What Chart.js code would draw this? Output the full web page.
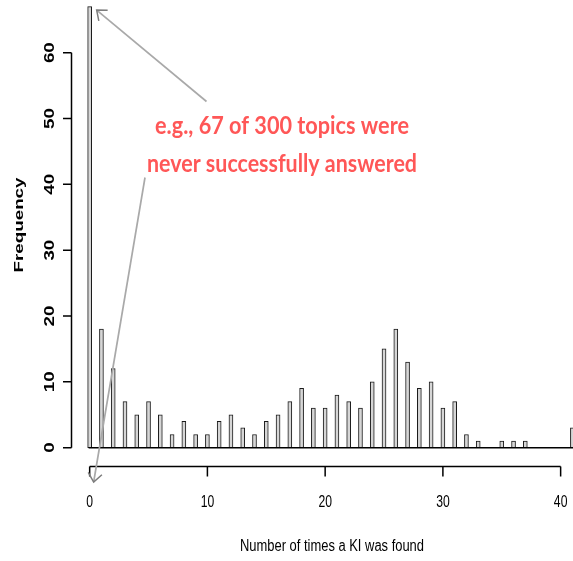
<!DOCTYPE html>
<html>
<head>
<meta charset="utf-8">
<script src="https://cdn.jsdelivr.net/npm/chart.js@4"></script>
<style>
  html, body { margin: 0; padding: 0; background: #fff; }
  #wrap { width: 573px; height: 561px; position: relative; }
</style>
</head>
<body>
<div id="wrap"><canvas id="histChart"></canvas></div>
<script>
/* ================================
   Data
================================ */
const timesFound = [0, 1, 2, 3, 4, 5, 6, 7, 8, 9, 10, 11, 12, 13, 14, 15, 16, 17, 18, 19, 20,
  21, 22, 23, 24, 25, 26, 27, 28, 29, 30, 31, 32, 33, 34, 35, 36, 37, 38, 39, 40, 41];
const frequency = [67, 18, 12, 7, 5, 7, 5, 2, 4, 2, 2, 4, 5, 3, 2, 4, 5, 7, 9, 6, 6,
  8, 7, 6, 10, 15, 18, 13, 9, 10, 6, 7, 2, 1, 0, 1, 1, 1, 0, 0, 0, 3];

const xTicks = [0, 10, 20, 30, 40];
const yTicks = [0, 10, 20, 30, 40, 50, 60];

const xTitle = "Number of times a KI was found";
const yTitle = "Frequency";
const noteLines = ["e.g., 67 of 300 topics were", "never successfully answered"];

/* ================================
   Drawing helpers
================================ */
function drawText(ctx, text, x, y, opts) {
  ctx.save();
  ctx.translate(x, y);
  if (opts.rotate) ctx.rotate(opts.rotate);
  ctx.font = opts.font;
  let sx = opts.sx || 1;
  if (opts.width) sx = opts.width / ctx.measureText(text).width;
  ctx.scale(sx, opts.sy || 1);
  ctx.fillStyle = opts.color || "#000";
  ctx.textAlign = "center";
  ctx.textBaseline = "alphabetic";
  ctx.fillText(text, 0, 0);
  ctx.restore();
}

function drawArrow(ctx, x1, y1, x2, y2) {
  ctx.save();
  ctx.strokeStyle = "#a9a9a9";
  ctx.lineWidth = 1.7;
  ctx.beginPath();
  ctx.moveTo(x1, y1);
  ctx.lineTo(x2, y2);
  ctx.stroke();

  // open arrow head at (x2, y2)
  const ang = Math.atan2(y1 - y2, x1 - x2);
  const len = 11;
  ctx.strokeStyle = "#7d7d7d";
  ctx.lineWidth = 1.5;
  ctx.beginPath();
  ctx.moveTo(x2 + len * Math.cos(ang - 0.68), y2 + len * Math.sin(ang - 0.68));
  ctx.lineTo(x2, y2);
  ctx.lineTo(x2 + len * Math.cos(ang + 0.68), y2 + len * Math.sin(ang + 0.68));
  ctx.stroke();
  ctx.restore();
}

/* ================================
   R-style axes + annotation
================================ */
const rAxesPlugin = {
  id: "rAxes",
  afterDatasetsDraw(chart) {
    const ctx = chart.ctx;
    const xs = chart.scales.x;
    const ys = chart.scales.y;
    const area = chart.chartArea;

    ctx.save();
    ctx.strokeStyle = "#000";
    ctx.lineWidth = 1.5;

    // baseline under the bars
    ctx.beginPath();
    ctx.moveTo(xs.getPixelForValue(0) - 1, ys.getPixelForValue(0));
    ctx.lineTo(area.right, ys.getPixelForValue(0));
    ctx.stroke();

    // y axis
    const yAxisX = 71.5;
    ctx.beginPath();
    ctx.moveTo(yAxisX, ys.getPixelForValue(yTicks[0]));
    ctx.lineTo(yAxisX, ys.getPixelForValue(yTicks[yTicks.length - 1]));
    yTicks.forEach(t => {
      const py = ys.getPixelForValue(t);
      ctx.moveTo(yAxisX, py);
      ctx.lineTo(yAxisX - 8.5, py);
    });
    ctx.stroke();
    yTicks.forEach(t => {
      drawText(ctx, String(t), 54, ys.getPixelForValue(t), {
        font: "bold 15px 'Liberation Sans', Arial, sans-serif",
        rotate: -Math.PI / 2, sx: 1.25
      });
    });
    drawText(ctx, yTitle, 22.5, 225, {
      font: "bold 13px 'Liberation Sans', Arial, sans-serif",
      rotate: -Math.PI / 2, width: 95
    });

    // x axis
    const xAxisY = 466.5;
    ctx.beginPath();
    ctx.moveTo(xs.getPixelForValue(xTicks[0]), xAxisY);
    ctx.lineTo(xs.getPixelForValue(xTicks[xTicks.length - 1]), xAxisY);
    xTicks.forEach(t => {
      const px = xs.getPixelForValue(t);
      ctx.moveTo(px, xAxisY);
      ctx.lineTo(px, xAxisY + 10);
    });
    ctx.stroke();
    xTicks.forEach(t => {
      drawText(ctx, String(t), xs.getPixelForValue(t), 507, {
        font: "16px 'Liberation Sans', Arial, sans-serif", sx: 0.76
      });
    });
    drawText(ctx, xTitle, 332, 551, {
      font: "16px 'Liberation Sans', Arial, sans-serif", width: 184
    });

    // annotation
    drawText(ctx, noteLines[0], 282, 133.5, {
      font: "bold 20px Lato, sans-serif", sy: 1.2, width: 254, color: "#ff5757"
    });
    drawText(ctx, noteLines[1], 282, 171.5, {
      font: "bold 20px Lato, sans-serif", sy: 1.2, width: 270, color: "#ff5757"
    });

    drawArrow(ctx, 206.5, 101.5,
      xs.getPixelForValue(timesFound[0]) + 7, ys.getPixelForValue(frequency[0]) + 3.5);
    drawArrow(ctx, 145, 177.5, xs.getPixelForValue(timesFound[0]) + 4, 482);

    ctx.restore();
  }
};

/* ================================
   Chart
================================ */
new Chart(document.getElementById("histChart"), {
  type: "bar",
  data: {
    datasets: [{
      data: timesFound.map((x, i) => ({ x, y: frequency[i] })),
      barThickness: 4,
      borderWidth: 1,
      borderSkipped: false,
      borderColor: "#1a1a1a",
      backgroundColor: "#d6d6d6",
      clip: false
    }]
  },
  options: {
    responsive: true,
    maintainAspectRatio: false,
    animation: false,
    events: [],
    layout: { padding: { left: 72, right: 0, top: 0, bottom: 93.6 } },
    plugins: {
      legend: { display: false },
      tooltip: { enabled: false }
    },
    scales: {
      x: { type: "linear", offset: false, min: -1.5, max: 41.05, display: false },
      y: { min: -3, max: 68, display: false }
    }
  },
  plugins: [rAxesPlugin]
});
</script>
</body>
</html>
